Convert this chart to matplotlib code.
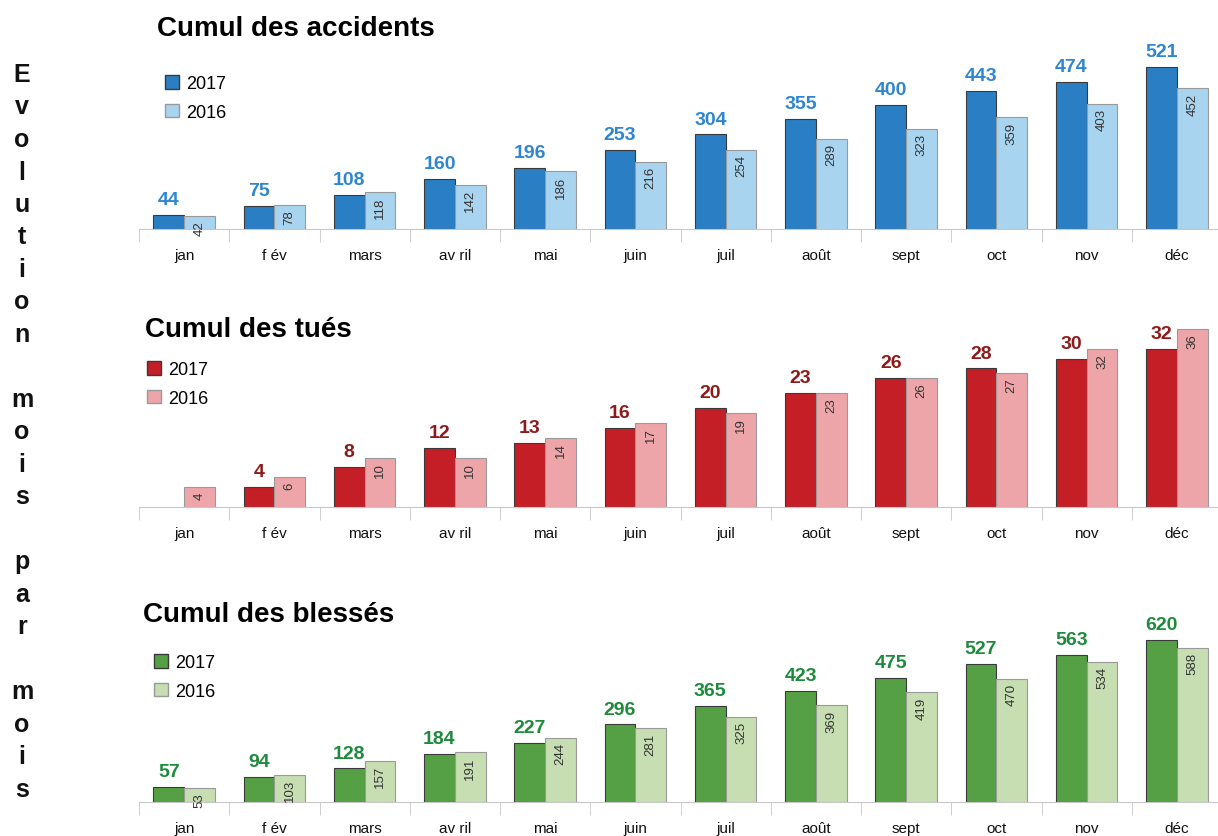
#!/usr/bin/env python3
import matplotlib
matplotlib.use("Agg")
import matplotlib.pyplot as plt
from matplotlib.patches import Patch
import numpy as np

plt.rcParams['font.family'] = ['Liberation Sans', 'DejaVu Sans']

months = ['jan', 'f év', 'mars', 'av ril', 'mai', 'juin', 'juil', 'août', 'sept', 'oct', 'nov', 'déc']

accidents_2017 = [44, 75, 108, 160, 196, 253, 304, 355, 400, 443, 474, 521]
accidents_2016 = [42, 78, 118, 142, 186, 216, 254, 289, 323, 359, 403, 452]

tues_2017 = [None, 4, 8, 12, 13, 16, 20, 23, 26, 28, 30, 32]
tues_2016 = [4, 6, 10, 10, 14, 17, 19, 23, 26, 27, 32, 36]

blesses_2017 = [57, 94, 128, 184, 227, 296, 365, 423, 475, 527, 563, 620]
blesses_2016 = [53, 103, 157, 191, 244, 281, 325, 369, 419, 470, 534, 588]

W, H = 1218, 837
fig = plt.figure(figsize=(W / 100, H / 100), dpi=100)


def px_axes(left, right, top, bottom):
    return fig.add_axes([left / W, 1 - bottom / H, (right - left) / W, (bottom - top) / H])


panels = [
    # title, data 2017, data 2016, colors, label color, axes box, ymax, title pos, legend pos
    ("Cumul des accidents", accidents_2017, accidents_2016, "#2A7FC4", "#A9D4F0", "#2E86D0",
     (139, 1222, 40, 230), 611, (157, 29), (149, 90)),
    ("Cumul des tués", tues_2017, tues_2016, "#C41E26", "#EEA5A9", "#8E1B1B",
     (139, 1222, 320, 508), 38, (145, 330), (131, 376)),
    ("Cumul des blessés", blesses_2017, blesses_2016, "#55A044", "#C6DEB1", "#1E8A3C",
     (139, 1222, 600, 803), 775, (143, 615), (138, 669)),
]

x = np.arange(len(months))
bw = 0.34

for title, d17, d16, c17, c16, lc, box, ymax, tpos, lpos in panels:
    ax = px_axes(*box)
    v17 = [np.nan if v is None else v for v in d17]
    ax.bar(x - bw / 2, v17, bw, color=c17, edgecolor="#3a3a3a", linewidth=0.8)
    ax.bar(x + bw / 2, d16, bw, color=c16, edgecolor="#9a9a9a", linewidth=0.8)
    for i, v in enumerate(d17):
        if v is None:
            continue
        ax.annotate(str(v), (x[i] - bw / 2, v), xytext=(0, 5), textcoords="offset points",
                    ha="center", va="bottom", fontsize=14, fontweight="bold", color=lc)
    for i, v in enumerate(d16):
        ax.annotate(str(v), (x[i] + bw / 2, v), xytext=(0, -3), textcoords="offset points",
                    ha="center", va="top", rotation=90, fontsize=9.5, color="#333333")
    ax.set_xlim(-0.5, len(months) - 0.5)
    ax.set_ylim(0, ymax)
    for s in ["top", "left", "right"]:
        ax.spines[s].set_visible(False)
    ax.spines["bottom"].set_color("#c8c8c8")
    ax.set_yticks([])
    ax.set_xticks(x)
    ax.set_xticklabels(months, fontsize=11, color="#111111")
    ax.tick_params(axis="x", which="major", length=0, pad=14)
    ax.set_xticks(np.arange(-0.5, len(months)), minor=True)
    ax.tick_params(axis="x", which="minor", length=9, color="#c8c8c8")
    ax.patch.set_alpha(0)

    fig.text(tpos[0] / W, 1 - tpos[1] / H, title, fontsize=20, fontweight="bold",
             ha="left", va="center")
    handles = [Patch(facecolor=c17, edgecolor="#3a3a3a"), Patch(facecolor=c16, edgecolor="#9a9a9a")]
    fig.legend(handles, ["2017", "2016"], loc="upper left",
               bbox_to_anchor=(lpos[0] / W, 1 - (lpos[1] - 30) / H),
               frameon=False, fontsize=13, handlelength=0.75, handleheight=0.75,
               handletextpad=0.4, labelspacing=0.65)

side = "Evolution mois par mois"
for i, ch in enumerate(side):
    fig.text(22 / W, 1 - (75 + i * 32.5) / H, ch, fontsize=18, fontweight="bold",
             ha="center", va="center", color="#111111")

fig.savefig("out.png", dpi=100)
